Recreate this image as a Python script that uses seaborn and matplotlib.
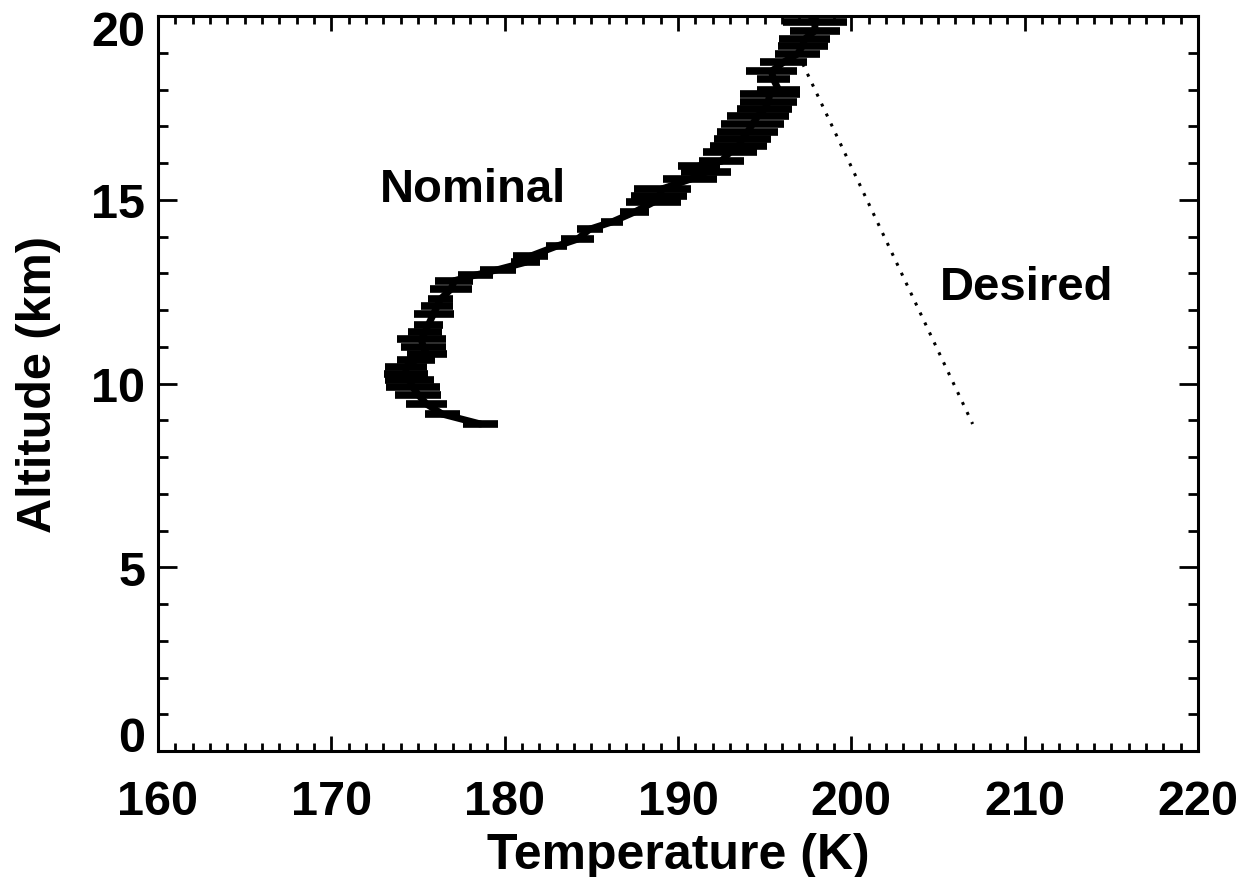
"""Temperature profile: nominal retrieval with error bars vs desired profile."""

import matplotlib
matplotlib.use("Agg")
import matplotlib.pyplot as plt
import numpy as np
import pandas as pd
import seaborn as sns
from matplotlib.ticker import MultipleLocator
from matplotlib.transforms import ScaledTranslation

# Nominal profile
ALTITUDE = [8.9, 9.17, 9.44, 9.7, 9.9, 10.1, 10.26, 10.45, 10.65, 10.8, 11.0, 11.2,
            11.4, 11.6, 11.9, 12.1, 12.3, 12.57, 12.8, 12.95, 13.1, 13.3, 13.47, 13.74,
            13.93, 14.2, 14.4, 14.67, 14.94, 15.1, 15.3, 15.56, 15.75, 15.92, 16.05, 16.3,
            16.46, 16.65, 16.84, 17.06, 17.28, 17.47, 17.66, 17.88, 18.0, 18.29, 18.5,
            18.75, 18.97, 19.2, 19.37, 19.6, 19.84, 20.05]
TEMPERATURE = [178.6, 176.4, 175.5, 175.0, 174.7, 174.5, 174.3, 174.3, 174.9, 175.5, 175.3, 175.2,
               175.4, 175.6, 175.9, 176.1, 176.3, 176.9, 177.1, 178.3, 179.6, 181.2, 181.5, 183.0,
               184.2, 184.9, 186.2, 187.5, 188.6, 188.9, 189.1, 190.7, 191.6, 191.2, 192.5, 193.0,
               193.5, 193.7, 194.0, 194.3, 194.6, 195.0, 195.2, 195.3, 195.8, 195.5, 195.4,
               196.1, 196.9, 197.2, 197.3, 197.9, 197.9, 197.6]
ERROR = [1.0, 1.0, 1.2, 1.35, 1.55, 1.4, 1.25, 1.2, 1.1, 1.15, 1.3, 1.4,
         1.0, 0.85, 1.15, 0.9, 0.7, 1.2, 1.1, 1.0, 1.05, 0.85, 1.0, 0.6,
         0.95, 0.75, 0.65, 0.85, 1.6, 1.6, 1.65, 1.55, 1.45, 1.2, 1.3, 1.55,
         1.65, 1.65, 1.75, 1.8, 1.8, 1.6, 1.65, 1.75, 1.25, 0.95, 1.45,
         1.35, 1.3, 1.45, 1.45, 1.45, 1.85, 0.6]

# Desired profile
DESIRED_ALTITUDE = [18.7, 8.9]
DESIRED_TEMPERATURE = [197.2, 207.0]

XTICKS = [160, 170, 180, 190, 200, 210, 220]
YTICKS = [0, 5, 10, 15, 20]

FONT = ["Liberation Sans", "DejaVu Sans"]


def main() -> None:
  sns.set_theme(style = "ticks")
  plt.rcParams["font.family"] = FONT
  plt.rcParams.update({
    "font.weight" : "bold",
    "text.color" : "black",
    "axes.labelcolor" : "black",
    "xtick.color" : "black",
    "ytick.color" : "black",
  })

  nominal = pd.DataFrame({"T" : TEMPERATURE, "z" : ALTITUDE, "err" : ERROR})
  desired = pd.DataFrame({"T" : DESIRED_TEMPERATURE, "z" : DESIRED_ALTITUDE})

  fig = plt.figure(figsize = (12.44, 8.78), dpi = 100)
  ax = fig.add_axes([0.127, 0.1435, 0.836, 0.837])

  ax.errorbar(nominal["T"], nominal["z"], xerr = nominal["err"], fmt = "none",
              ecolor = "black", elinewidth = 5.5, capsize = 0)
  sns.lineplot(data = nominal, x = "T", y = "z", sort = False, estimator = None,
               color = "black", linewidth = 5, ax = ax)
  sns.lineplot(data = desired, x = "T", y = "z", sort = False, estimator = None,
               color = "black", linewidth = 2.2, dashes = False, ax = ax)
  ax.lines[-1].set_dashes((1.0, 2.6))

  ax.text(178.2, 15.3, "Nominal", fontsize = 34, fontweight = "bold", ha = "center", va = "center")
  ax.text(210.1, 12.63, "Desired", fontsize = 34, fontweight = "bold", ha = "center", va = "center")

  ax.set_xlim(160, 220)
  ax.set_ylim(0, 20)
  ax.set_xticks(XTICKS)
  ax.set_yticks(YTICKS)
  ax.xaxis.set_minor_locator(MultipleLocator(1))
  ax.yaxis.set_minor_locator(MultipleLocator(1))

  for side in ["top", "right", "bottom", "left"] :
    ax.spines[side].set_visible(True)
    ax.spines[side].set_linewidth(2.2)
    ax.spines[side].set_color("black")

  ax.tick_params(axis = "both", which = "both", direction = "in", top = True, right = True,
                 color = "black", width = 2)
  ax.tick_params(axis = "x", which = "major", length = 11, pad = 20, labelsize = 35)
  ax.tick_params(axis = "x", which = "minor", length = 5.5)
  ax.tick_params(axis = "y", which = "major", length = 14, pad = 9, labelsize = 35)
  ax.tick_params(axis = "y", which = "minor", length = 7)

  ax.set_xlabel("Temperature (K)", fontsize = 36, fontweight = "bold", labelpad = 6)
  ax.set_ylabel("Altitude (km)", fontsize = 35, fontweight = "bold", labelpad = 22)
  ax.grid(False)

  # keep the end labels inside the frame, as in the reference
  yticks = ax.yaxis.get_major_ticks()
  yticks[0].label1.set_verticalalignment("baseline")
  top_label = yticks[-1].label1
  top_label.set_transform(top_label.get_transform() + ScaledTranslation(0, -0.11, fig.dpi_scale_trans))

  fig.savefig("out.png", dpi = 100, facecolor = "white")
  plt.close(fig)


if __name__ == "__main__" :
  main()
